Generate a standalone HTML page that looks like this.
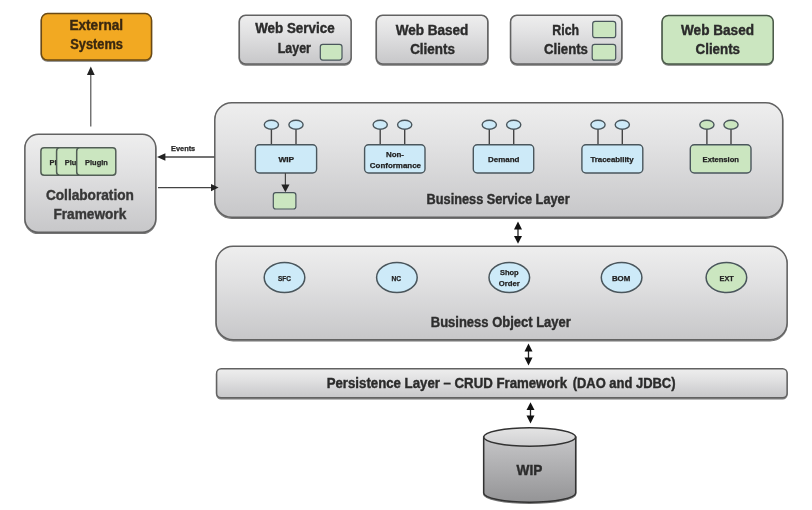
<!DOCTYPE html>
<html><head><meta charset="utf-8"><title>Architecture</title>
<style>html,body{margin:0;padding:0;background:#fff}svg{display:block}text{font-family:"Liberation Sans", sans-serif;font-weight:bold}g.t{opacity:0.999}</style>
</head><body>
<svg width="812" height="510" viewBox="0 0 812 510">
<defs>
<linearGradient id="g" x1="0" y1="0" x2="0" y2="1"><stop offset="0" stop-color="#eeeeee"/><stop offset="0.35" stop-color="#e2e2e3"/><stop offset="1" stop-color="#c7c7c9"/></linearGradient>
<linearGradient id="gc" x1="0" y1="0" x2="0" y2="1"><stop offset="0" stop-color="#c6c6c8"/><stop offset="1" stop-color="#949496"/></linearGradient>
<linearGradient id="gt" x1="0" y1="0" x2="0" y2="1"><stop offset="0" stop-color="#e4e4e4"/><stop offset="1" stop-color="#cfcfd1"/></linearGradient>
<filter id="sh" x="-5%" y="-10%" width="112%" height="125%"><feGaussianBlur in="SourceAlpha" stdDeviation="0.5"/><feOffset dx="0.2" dy="0.7"/><feComponentTransfer><feFuncA type="linear" slope="0.55"/></feComponentTransfer><feMerge><feMergeNode/><feMergeNode in="SourceGraphic"/></feMerge></filter>
</defs>
<rect width="812" height="510" fill="#ffffff"/>
<g class="t">
<rect x="41.3" y="13.6" width="110.2" height="46.4" rx="6.2" fill="#f2a922" stroke="#6a4a12" stroke-width="1.5" filter="url(#sh)"/>
<text x="69.5" y="29.5" font-size="14.0" textLength="53.5" lengthAdjust="spacingAndGlyphs" fill="#3a2810" stroke="#3a2810" stroke-width="0.40">External</text>
<text x="70.3" y="48.9" font-size="14.0" textLength="52.7" lengthAdjust="spacingAndGlyphs" fill="#3a2810" stroke="#3a2810" stroke-width="0.40">Systems</text>
<rect x="239.3" y="15.3" width="111.8" height="48.7" rx="6.3" fill="url(#g)" stroke="#626262" stroke-width="1.5" filter="url(#sh)"/>
<text x="255.2" y="33.3" font-size="14.0" textLength="79.4" lengthAdjust="spacingAndGlyphs" fill="#2b2b2b" stroke="#2b2b2b" stroke-width="0.40">Web Service</text>
<text x="277.7" y="52.9" font-size="14.0" textLength="33.2" lengthAdjust="spacingAndGlyphs" fill="#2b2b2b" stroke="#2b2b2b" stroke-width="0.40">Layer</text>
<rect x="320.3" y="44.3" width="21.7" height="15.8" rx="2.5" fill="#cbe6c0" stroke="#4a565c" stroke-width="1.2"/>
<rect x="376.3" y="15.3" width="111.5" height="48.7" rx="6.3" fill="url(#g)" stroke="#626262" stroke-width="1.5" filter="url(#sh)"/>
<text x="395.7" y="35.0" font-size="14.0" textLength="72.7" lengthAdjust="spacingAndGlyphs" fill="#2b2b2b" stroke="#2b2b2b" stroke-width="0.40">Web Based</text>
<text x="410.2" y="54.0" font-size="14.0" textLength="44.7" lengthAdjust="spacingAndGlyphs" fill="#2b2b2b" stroke="#2b2b2b" stroke-width="0.40">Clients</text>
<rect x="510.6" y="15.3" width="111.2" height="48.7" rx="6.3" fill="url(#g)" stroke="#626262" stroke-width="1.5" filter="url(#sh)"/>
<text x="552.3" y="35.0" font-size="14.0" textLength="26.8" lengthAdjust="spacingAndGlyphs" fill="#2b2b2b" stroke="#2b2b2b" stroke-width="0.40">Rich</text>
<text x="544.0" y="54.0" font-size="14.0" textLength="43.9" lengthAdjust="spacingAndGlyphs" fill="#2b2b2b" stroke="#2b2b2b" stroke-width="0.40">Clients</text>
<rect x="592.7" y="21.3" width="23.0" height="16.4" rx="2.5" fill="#cbe6c0" stroke="#4a565c" stroke-width="1.2"/>
<rect x="592.2" y="44.3" width="23.5" height="15.9" rx="2.5" fill="#cbe6c0" stroke="#4a565c" stroke-width="1.2"/>
<rect x="662.1" y="15.4" width="111.1" height="48.7" rx="6.3" fill="#cbe6c0" stroke="#4a5a48" stroke-width="1.5" filter="url(#sh)"/>
<text x="681.0" y="35.0" font-size="14.0" textLength="73.0" lengthAdjust="spacingAndGlyphs" fill="#2b2b2b" stroke="#2b2b2b" stroke-width="0.40">Web Based</text>
<text x="695.6" y="54.0" font-size="14.0" textLength="44.4" lengthAdjust="spacingAndGlyphs" fill="#2b2b2b" stroke="#2b2b2b" stroke-width="0.40">Clients</text>
<line x1="90.8" y1="126.6" x2="90.8" y2="73" stroke="#444444" stroke-width="1.1"/>
<polygon points="90.8,66.6 86.9,75 94.7,75" fill="#222"/>
<rect x="24.9" y="134.3" width="130.9" height="98.0" rx="13.5" fill="url(#g)" stroke="#626262" stroke-width="1.5" filter="url(#sh)"/>
<clipPath id="c1"><rect x="40" y="146" width="16.2" height="31"/></clipPath>
<clipPath id="c2"><rect x="56" y="146" width="20.5" height="31"/></clipPath>
<rect x="40.9" y="147.7" width="39.4" height="27.6" rx="3.2" fill="#cbe6c0" stroke="#525e56" stroke-width="1.5"/>
<text x="49.6" y="164.7" font-size="7.4" textLength="22.7" lengthAdjust="spacingAndGlyphs" fill="#262626" stroke="#262626" stroke-width="0.25" clip-path="url(#c1)">Plugin</text>
<rect x="56.6" y="147.7" width="39.4" height="27.6" rx="3.2" fill="#cbe6c0" stroke="#525e56" stroke-width="1.5"/>
<text x="64.8" y="164.7" font-size="7.4" textLength="22.7" lengthAdjust="spacingAndGlyphs" fill="#262626" stroke="#262626" stroke-width="0.25" clip-path="url(#c2)">Plugin</text>
<rect x="76.7" y="147.7" width="39.1" height="27.6" rx="3.2" fill="#cbe6c0" stroke="#525e56" stroke-width="1.5"/>
<text x="85.1" y="164.7" font-size="7.4" textLength="22.7" lengthAdjust="spacingAndGlyphs" fill="#262626" stroke="#262626" stroke-width="0.25">Plugin</text>
<text x="45.9" y="199.7" font-size="14.0" textLength="88.0" lengthAdjust="spacingAndGlyphs" fill="#383838" stroke="#383838" stroke-width="0.40">Collaboration</text>
<text x="53.4" y="218.7" font-size="14.0" textLength="72.9" lengthAdjust="spacingAndGlyphs" fill="#383838" stroke="#383838" stroke-width="0.40">Framework</text>
<rect x="214.8" y="102.8" width="567.9" height="114.5" rx="17.0" fill="url(#g)" stroke="#626262" stroke-width="1.5" filter="url(#sh)"/>
<line x1="164" y1="157" x2="214.5" y2="157" stroke="#444444" stroke-width="1.3"/>
<polygon points="157,157 165.4,153.3 165.4,160.7" fill="#222"/>
<line x1="158" y1="187.6" x2="212" y2="187.6" stroke="#444444" stroke-width="1.3"/>
<polygon points="218.6,187.6 211,183.9 211,191.3" fill="#222"/>
<text x="171.0" y="150.9" font-size="7.3" textLength="24.2" lengthAdjust="spacingAndGlyphs" fill="#262626" stroke="#262626" stroke-width="0.25">Events</text>
<line x1="271.4" y1="129" x2="271.4" y2="144.6" stroke="#444444" stroke-width="1.4"/>
<ellipse cx="271.4" cy="124.7" rx="7.1" ry="4.5" fill="#cdeaf8" stroke="#4a565c" stroke-width="1.4"/>
<line x1="296.0" y1="129" x2="296.0" y2="144.6" stroke="#444444" stroke-width="1.4"/>
<ellipse cx="296.0" cy="124.7" rx="7.1" ry="4.5" fill="#cdeaf8" stroke="#4a565c" stroke-width="1.4"/>
<rect x="255.4" y="144.8" width="61.2" height="28.2" rx="4.0" fill="#cdeaf8" stroke="#4a565c" stroke-width="1.4"/>
<text x="278.4" y="161.8" font-size="7.3" textLength="15.8" lengthAdjust="spacingAndGlyphs" fill="#222222" stroke="#222222" stroke-width="0.25">WIP</text>
<line x1="380.2" y1="129" x2="380.2" y2="144.6" stroke="#444444" stroke-width="1.4"/>
<ellipse cx="380.2" cy="124.7" rx="7.1" ry="4.5" fill="#cdeaf8" stroke="#4a565c" stroke-width="1.4"/>
<line x1="404.7" y1="129" x2="404.7" y2="144.6" stroke="#444444" stroke-width="1.4"/>
<ellipse cx="404.7" cy="124.7" rx="7.1" ry="4.5" fill="#cdeaf8" stroke="#4a565c" stroke-width="1.4"/>
<rect x="364.6" y="144.8" width="60.4" height="28.2" rx="4.0" fill="#cdeaf8" stroke="#4a565c" stroke-width="1.4"/>
<text x="385.9" y="156.7" font-size="7.3" textLength="18.1" lengthAdjust="spacingAndGlyphs" fill="#222222" stroke="#222222" stroke-width="0.25">Non-</text>
<text x="369.8" y="168.1" font-size="7.3" textLength="51.2" lengthAdjust="spacingAndGlyphs" fill="#222222" stroke="#222222" stroke-width="0.25">Conformance</text>
<line x1="489.3" y1="129" x2="489.3" y2="144.6" stroke="#444444" stroke-width="1.4"/>
<ellipse cx="489.3" cy="124.7" rx="7.1" ry="4.5" fill="#cdeaf8" stroke="#4a565c" stroke-width="1.4"/>
<line x1="513.7" y1="129" x2="513.7" y2="144.6" stroke="#444444" stroke-width="1.4"/>
<ellipse cx="513.7" cy="124.7" rx="7.1" ry="4.5" fill="#cdeaf8" stroke="#4a565c" stroke-width="1.4"/>
<rect x="473.3" y="144.8" width="60.4" height="28.2" rx="4.0" fill="#cdeaf8" stroke="#4a565c" stroke-width="1.4"/>
<text x="488.0" y="162.0" font-size="7.3" textLength="31.4" lengthAdjust="spacingAndGlyphs" fill="#222222" stroke="#222222" stroke-width="0.25">Demand</text>
<line x1="598.0" y1="129" x2="598.0" y2="144.6" stroke="#444444" stroke-width="1.4"/>
<ellipse cx="598.0" cy="124.7" rx="7.1" ry="4.5" fill="#cdeaf8" stroke="#4a565c" stroke-width="1.4"/>
<line x1="622.3" y1="129" x2="622.3" y2="144.6" stroke="#444444" stroke-width="1.4"/>
<ellipse cx="622.3" cy="124.7" rx="7.1" ry="4.5" fill="#cdeaf8" stroke="#4a565c" stroke-width="1.4"/>
<rect x="581.9" y="144.8" width="60.9" height="28.2" rx="4.0" fill="#cdeaf8" stroke="#4a565c" stroke-width="1.4"/>
<text x="590.4" y="162.0" font-size="7.3" textLength="43.2" lengthAdjust="spacingAndGlyphs" fill="#222222" stroke="#222222" stroke-width="0.25">Traceability</text>
<line x1="706.9" y1="129" x2="706.9" y2="144.6" stroke="#444444" stroke-width="1.4"/>
<ellipse cx="706.9" cy="124.7" rx="7.1" ry="4.5" fill="#cbe6c0" stroke="#4a565c" stroke-width="1.4"/>
<line x1="731.0" y1="129" x2="731.0" y2="144.6" stroke="#444444" stroke-width="1.4"/>
<ellipse cx="731.0" cy="124.7" rx="7.1" ry="4.5" fill="#cbe6c0" stroke="#4a565c" stroke-width="1.4"/>
<rect x="690.3" y="144.8" width="60.7" height="28.2" rx="4.0" fill="#cbe6c0" stroke="#4a565c" stroke-width="1.4"/>
<text x="702.6" y="162.0" font-size="7.3" textLength="36.4" lengthAdjust="spacingAndGlyphs" fill="#222222" stroke="#222222" stroke-width="0.25">Extension</text>
<line x1="285.4" y1="173" x2="285.4" y2="186" stroke="#444444" stroke-width="1.2"/>
<polygon points="285.4,192.3 281.3,184.5 289.5,184.5" fill="#222"/>
<rect x="273.3" y="192.7" width="22.6" height="16.3" rx="2.5" fill="#cbe6c0" stroke="#4a565c" stroke-width="1.2"/>
<text x="426.6" y="204.2" font-size="14.0" textLength="143.0" lengthAdjust="spacingAndGlyphs" fill="#2e2e2e" stroke="#2e2e2e" stroke-width="0.40">Business Service Layer</text>
<rect x="216.1" y="246.3" width="571.0" height="93.4" rx="17.0" fill="url(#g)" stroke="#626262" stroke-width="1.5" filter="url(#sh)"/>
<ellipse cx="284.5" cy="277.5" rx="20.3" ry="15" fill="#cdeaf8" stroke="#4a565c" stroke-width="1.5"/>
<text x="278.0" y="280.8" font-size="7.2" textLength="13.0" lengthAdjust="spacingAndGlyphs" fill="#222222" stroke="#222222" stroke-width="0.25">SFC</text>
<ellipse cx="396.9" cy="277.5" rx="20.3" ry="15" fill="#cdeaf8" stroke="#4a565c" stroke-width="1.5"/>
<text x="391.5" y="280.8" font-size="7.2" textLength="9.6" lengthAdjust="spacingAndGlyphs" fill="#222222" stroke="#222222" stroke-width="0.25">NC</text>
<ellipse cx="509.3" cy="277.5" rx="20.3" ry="15" fill="#cdeaf8" stroke="#4a565c" stroke-width="1.5"/>
<text x="499.9" y="275.4" font-size="7.4" textLength="18.8" lengthAdjust="spacingAndGlyphs" fill="#222222" stroke="#222222" stroke-width="0.25">Shop</text>
<text x="498.8" y="285.9" font-size="7.4" textLength="21.0" lengthAdjust="spacingAndGlyphs" fill="#222222" stroke="#222222" stroke-width="0.25">Order</text>
<ellipse cx="621.6" cy="277.5" rx="20.3" ry="15" fill="#cdeaf8" stroke="#4a565c" stroke-width="1.5"/>
<text x="611.9" y="280.6" font-size="7.2" textLength="18.4" lengthAdjust="spacingAndGlyphs" fill="#222222" stroke="#222222" stroke-width="0.25">BOM</text>
<ellipse cx="726.4" cy="277.5" rx="20.3" ry="15" fill="#cbe6c0" stroke="#4a565c" stroke-width="1.5"/>
<text x="719.6" y="280.8" font-size="7.2" textLength="14.2" lengthAdjust="spacingAndGlyphs" fill="#222222" stroke="#222222" stroke-width="0.25">EXT</text>
<text x="430.8" y="326.7" font-size="14.0" textLength="140.0" lengthAdjust="spacingAndGlyphs" fill="#2e2e2e" stroke="#2e2e2e" stroke-width="0.40">Business Object Layer</text>
<line x1="518.0" y1="226.6" x2="518.0" y2="238.8" stroke="#222" stroke-width="1.3"/>
<polygon points="518.0,221.6 514.0,229.4 522.0,229.4" fill="#111"/>
<polygon points="518.0,243.8 514.0,236.0 522.0,236.0" fill="#111"/>
<line x1="528.5" y1="348.6" x2="528.5" y2="360.4" stroke="#222" stroke-width="1.3"/>
<polygon points="528.5,343.6 524.5,351.4 532.5,351.4" fill="#111"/>
<polygon points="528.5,365.4 524.5,357.6 532.5,357.6" fill="#111"/>
<line x1="530.5" y1="407.3" x2="530.5" y2="418.4" stroke="#222" stroke-width="1.3"/>
<polygon points="530.5,402.3 526.5,410.1 534.5,410.1" fill="#111"/>
<polygon points="530.5,423.4 526.5,415.6 534.5,415.6" fill="#111"/>
<rect x="216.6" y="368.7" width="570.5" height="29.1" rx="4.5" fill="url(#g)" stroke="#626262" stroke-width="1.5" filter="url(#sh)"/>
<text x="326.7" y="387.8" font-size="14.0" textLength="240.3" lengthAdjust="spacingAndGlyphs" fill="#2b2b2b" stroke="#2b2b2b" stroke-width="0.40">Persistence Layer – CRUD Framework</text>
<text x="572.7" y="387.8" font-size="14.0" textLength="102.8" lengthAdjust="spacingAndGlyphs" fill="#2b2b2b" stroke="#2b2b2b" stroke-width="0.40">(DAO and JDBC)</text>
<g filter="url(#sh)">
<path d="M483.7,437 L483.7,493 A46,9.2 0 0 0 575.7,493 L575.7,437 Z" fill="url(#gc)" stroke="#333" stroke-width="1.5"/>
<ellipse cx="529.7" cy="437" rx="46" ry="9.2" fill="url(#gt)" stroke="#333" stroke-width="1.5"/>
</g>
<text x="516.6" y="474.8" font-size="14.0" textLength="25.8" lengthAdjust="spacingAndGlyphs" fill="#2c2c2c" stroke="#2c2c2c" stroke-width="0.40">WIP</text>
</g>
</svg>
</body></html>
